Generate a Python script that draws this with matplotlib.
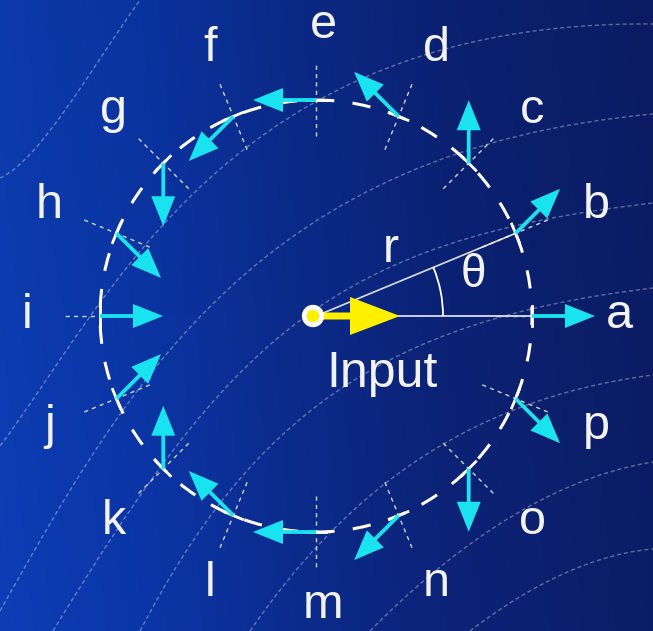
import math
import numpy as np
import matplotlib
matplotlib.use("Agg")
import matplotlib.pyplot as plt
from matplotlib.patches import Circle, Arc, PathPatch, FancyArrow
from matplotlib.path import Path
from matplotlib.colors import to_rgb

WIDTH = 653
HEIGHT = 631
CX, CY = 316, 316          # centre of the ring, pixel coords (y down)
RADIUS = 216
LABEL_CX, LABEL_CY = 323, 316
LABEL_RX, LABEL_RY = 296, 290
ARROW_LEN = 63
CYAN = "#19e3ee"
YELLOW = "#fff000"
TEXT_COLOR = "#f2f2f2"
FONT = "Liberation Sans"

# points around the ring and the direction of the arrow at each one
labels = ["a", "b", "c", "d", "e", "f", "g", "h",
          "i", "j", "k", "l", "m", "n", "o", "p"]
point_angles = [0.0, 22.5, 45.0, 67.5, 90.0, 112.5, 135.0, 157.5,
                180.0, 202.5, 225.0, 247.5, 270.0, 292.5, 315.0, 337.5]
arrow_angles = [0, 45, 90, 135, 180, 225, 270, 315,
                0, 45, 90, 135, 180, 225, 270, 315]
theta_angle = 22.5
theta_arc_radius = 127

# faint background curves (cubic bezier control points, pixels)
bg_curves = [
    [(0, 178), (40, 160), (90, 70), (140, 0)],
    [(0, 446), (110, 300), (230, 20), (653, 24)],
    [(0, 611), (130, 380), (260, 150), (653, 114)],
    [(53, 631), (230, 340), (330, 240), (653, 203)],
    [(140, 631), (250, 420), (380, 320), (653, 288)],
    [(250, 631), (340, 500), (460, 400), (653, 375)],
    [(370, 631), (440, 560), (540, 480), (653, 462)],
    [(470, 631), (510, 600), (580, 555), (653, 549)],
]

grad_stops_x = [0, 150, 300, 450, 653]
grad_stops_c = ["#0c3cb0", "#0b34a2", "#0b2a88", "#0b2274", "#0b1c64"]


def polar(r, deg):
    a = math.radians(deg)
    return CX + r * math.cos(a), CY - r * math.sin(a)


def draw_background(ax):
    xs = np.arange(WIDTH)
    cols = np.array([to_rgb(c) for c in grad_stops_c])
    row = np.stack([np.interp(xs, grad_stops_x, cols[:, k]) for k in range(3)], axis=-1)
    img = np.repeat(row[np.newaxis, :, :], HEIGHT, axis=0)
    ys = np.linspace(0, 1, HEIGHT)[:, None, None]
    img = np.clip(img * (0.97 + 0.06 * ys), 0, 1)
    ax.imshow(img, extent=[0, WIDTH, HEIGHT, 0], aspect="auto", zorder=0)

    codes = [Path.MOVETO, Path.CURVE4, Path.CURVE4, Path.CURVE4]
    for pts in bg_curves:
        patch = PathPatch(Path(pts, codes), fill=False, edgecolor="white",
                          alpha=0.35, lw=1.0, linestyle=(0, (3, 2)), zorder=1)
        ax.add_patch(patch)


def draw_ring(ax):
    ring = Circle((CX, CY), RADIUS, fill=False, edgecolor="white",
                  lw=2.2, linestyle=(0, (6, 6)), zorder=2)
    ax.add_patch(ring)

    for lab, pa, aa in zip(labels, point_angles, arrow_angles):
        px, py = polar(RADIUS, pa)
        # little dashed radial tick through the point
        x0, y0 = polar(RADIUS - 36, pa)
        x1, y1 = polar(RADIUS + 36, pa)
        ax.plot([x0, x1], [y0, y1], color="white", lw=1.0, alpha=0.8,
                linestyle=(0, (3, 3)), zorder=3)
        # short tangential tick
        t = math.radians(pa + 90)
        ax.plot([px - 10 * math.cos(t), px + 10 * math.cos(t)],
                [py + 10 * math.sin(t), py - 10 * math.sin(t)],
                color="white", lw=2.0, zorder=3)

        a = math.radians(aa)
        arr = FancyArrow(px, py, ARROW_LEN * math.cos(a), -ARROW_LEN * math.sin(a),
                         width=3.8, head_width=24, head_length=30,
                         length_includes_head=True, color=CYAN, lw=0, zorder=5)
        ax.add_patch(arr)

        la = math.radians(pa)
        lx = LABEL_CX + LABEL_RX * math.cos(la)
        ly = LABEL_CY - LABEL_RY * math.sin(la)
        ax.text(lx, ly, lab, color=TEXT_COLOR, fontsize=35, family=FONT,
                ha="center", va="center", zorder=6)


def draw_input(ax):
    ax.plot([CX, CX + RADIUS], [CY, CY], color="#d8dbe8", lw=1.3, zorder=3)
    bx, by = polar(RADIUS, theta_angle)
    ax.plot([CX, bx], [CY, by], color="white", lw=1.2, alpha=0.85, zorder=3)
    arc = Arc((CX, CY), 2 * theta_arc_radius, 2 * theta_arc_radius,
              theta1=-theta_angle, theta2=0, color="white", lw=1.3, zorder=3)
    ax.add_patch(arc)

    arr = FancyArrow(CX - 3, CY, 87, 0, width=7, head_width=38, head_length=50,
                     length_includes_head=True, color=YELLOW, lw=0, zorder=5)
    ax.add_patch(arr)
    ax.add_patch(Circle((CX - 3, CY), 10.5, color="white", zorder=6))
    ax.add_patch(Circle((CX - 3, CY), 5.5, color=YELLOW, zorder=7))

    ax.text(CX + 66, CY + 71, "Input", color=TEXT_COLOR, fontsize=36, family=FONT,
            ha="center", va="baseline", zorder=6)
    rx, ry = polar(100, 42)
    ax.text(rx, ry, "r", color=TEXT_COLOR, fontsize=35, family=FONT,
            ha="center", va="center", zorder=6)
    tx, ty = polar(163, 14.5)
    ax.text(tx, ty, "θ", color=TEXT_COLOR, fontsize=33, family=FONT,
            ha="center", va="center", zorder=6)


if __name__ == '__main__':
    fig = plt.figure(figsize=(WIDTH / 100, HEIGHT / 100), dpi=100)
    ax = fig.add_axes([0, 0, 1, 1])
    ax.set_xlim(0, WIDTH)
    ax.set_ylim(HEIGHT, 0)
    ax.axis("off")

    draw_background(ax)
    draw_ring(ax)
    draw_input(ax)

    fig.savefig("out.png", dpi=100)
